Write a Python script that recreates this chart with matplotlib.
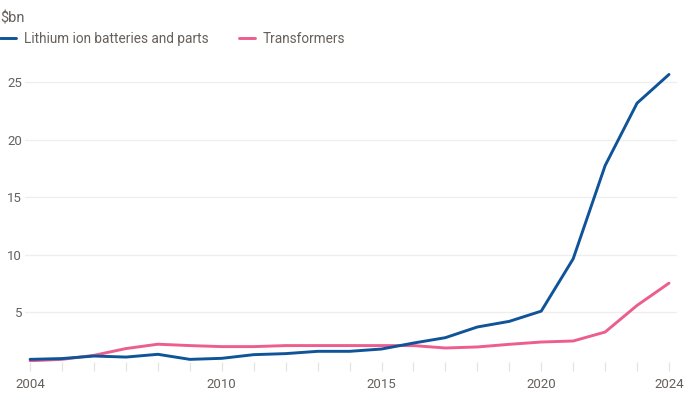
import numpy as np
import matplotlib
matplotlib.use('Agg')
import matplotlib.pyplot as plt
from matplotlib.ticker import MultipleLocator

years = list(range(2004, 2025))
batteries = [0.88, 0.95, 1.17, 1.08, 1.32, 0.88, 0.97, 1.29, 1.38, 1.58, 1.58, 1.78,
             2.3, 2.77, 3.7, 4.19, 5.08, 9.64, 17.76, 23.2, 25.7]
transformers = [0.76, 0.88, 1.23, 1.82, 2.2, 2.08, 1.99, 1.99, 2.08, 2.08, 2.08, 2.08,
                2.08, 1.87, 1.96, 2.19, 2.39, 2.48, 3.26, 5.58, 7.52]
xlabels = [2004, 2010, 2015, 2020, 2024]
yticks = [5, 10, 15, 20, 25]

grey = '#66605c'
plt.rcParams['font.family'] = ['Roboto', 'DejaVu Sans']

fig = plt.figure(figsize=(6.9, 4.0), dpi=100)
ax = fig.add_axes([25/690, 0.095, 652/690, 0.7275])

l1, = ax.plot(years, batteries, color='#0f5499', lw=2.1, solid_capstyle='round', zorder=3)
l2, = ax.plot(years, transformers, color='#eb5e8d', lw=2.1, solid_capstyle='round', zorder=2)

ax.set_xlim(2003.84, 2024.25)
ax.set_ylim(0.65, 26)
ax.set_yticks(yticks)
ax.set_xticks(xlabels)
ax.xaxis.set_minor_locator(MultipleLocator(1))
ax.grid(axis='y', color='#f0eeec', lw=0.9)
ax.set_axisbelow(True)
for s in ['top', 'right', 'left', 'bottom']:
    ax.spines[s].set_visible(False)
ax.tick_params(axis='y', length=0, pad=2, labelsize=9.5, labelcolor=grey)
ax.tick_params(axis='x', which='both', length=6.5, color='#e6e3e0', width=0.9,
               labelsize=9.5, labelcolor=grey, pad=5)

fig.text(0, 1 - 18/400, r'\$bn', color=grey, fontsize=10.5, va='center', ha='left')
fig.legend([l1, l2], ['Lithium ion batteries and parts', 'Transformers'],
           loc='center left', bbox_to_anchor=(0, 1 - 39/400), ncol=2, frameon=False,
           fontsize=9.8, labelcolor=grey, handlelength=1.15, handletextpad=0.6,
           columnspacing=2.25, borderpad=0, borderaxespad=0)

fig.savefig('out.png', dpi=100)
